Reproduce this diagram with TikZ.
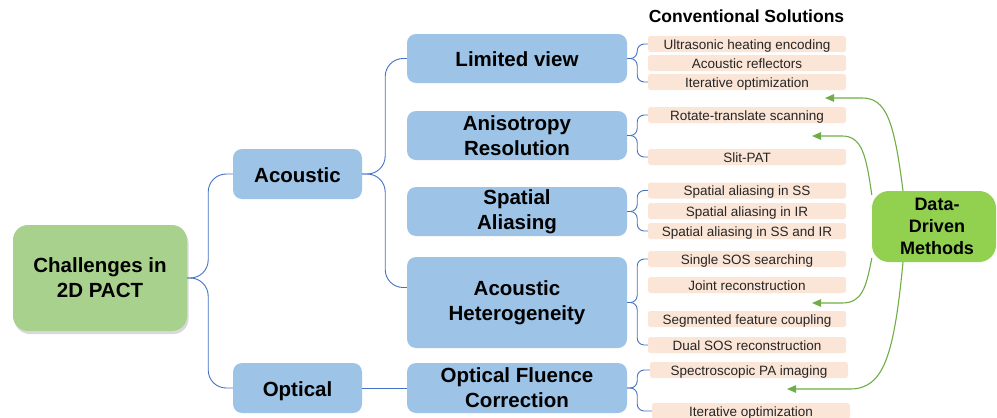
\documentclass[tikz,border=0pt]{standalone}
\usepackage{fontspec}
\setmainfont{Liberation Sans}
\usetikzlibrary{arrows.meta,shadows}

\definecolor{rootgreen}{HTML}{A9D18E}
\definecolor{ddgreen}{HTML}{92D050}
\definecolor{topicblue}{HTML}{9DC3E6}
\definecolor{solpeach}{HTML}{FBE5D6}
\definecolor{linkblue}{HTML}{4472C4}
\definecolor{arrowgreen}{HTML}{70AD47}
\definecolor{soltext}{HTML}{262626}

\tikzset{
  bigfont/.style={font=\fontsize{20.5}{25}\selectfont\bfseries},
  oneline/.style={text height=16pt, text depth=0pt},
  rootbox/.style={bigfont, fill=rootgreen, rounded corners=15pt, draw=none,
    minimum width=174pt, minimum height=106pt, inner sep=0pt, align=center,
    drop shadow={opacity=0.3, shadow xshift=1.5pt, shadow yshift=-3pt}},
  topicbox/.style={bigfont, oneline, fill=topicblue, rounded corners=9pt, draw=none,
    minimum width=129pt, minimum height=50pt, inner sep=0pt},
  issuebox/.style={bigfont, fill=topicblue, rounded corners=9pt, draw=none,
    minimum width=220pt, minimum height=#1, inner sep=0pt, align=center},
  issuebox/.default=49pt,
  solbox/.style={font=\fontsize{13.5}{15}\selectfont, text=soltext, fill=solpeach,
    rounded corners=2.5pt, minimum width=198pt, minimum height=16pt, inner sep=0pt,
    text height=10pt, text depth=0pt},
  ddbox/.style={font=\fontsize{18}{22}\selectfont\bfseries, fill=ddgreen,
    rounded corners=17pt, minimum width=124pt, minimum height=71pt, inner sep=0pt,
    align=center},
  brace/.style={draw=linkblue, line width=0.9pt, rounded corners=#1},
  brace/.default=18pt,
  ddarrow/.style={draw=arrowgreen, line width=1.1pt,
    -{Triangle[length=9pt,width=7.5pt]}},
}

\begin{document}
\begin{tikzpicture}[x=1pt,y=-1pt]
\useasboundingbox (0,0) rectangle (997,418);

% root and first level
\node[rootbox] (root) at (100,278) {Challenges in\\2D PACT};
\node[topicbox] (acoustic) at (297.5,174) {Acoustic};
\node[topicbox] (optical) at (297.5,388) {Optical};

% acoustic and optical issues
\node[issuebox, oneline] (limited) at (517,58.5) {Limited view};
\node[issuebox] (aniso) at (517,135.5) {Anisotropy\\Resolution};
\node[issuebox] (alias) at (517,211.5) {Spatial\\Aliasing};
\node[issuebox=91pt] (hetero) at (517,302.5) {Acoustic\\Heterogeneity};
\node[issuebox=50pt] (fluence) at (517,388) {Optical Fluence\\Correction};

% conventional solutions
\node[font=\fontsize{17.5}{20}\selectfont\bfseries] (convtitle) at (746.5,16) {Conventional Solutions};
\node[solbox] (s1) at (747,44) {Ultrasonic heating encoding};
\node[solbox] (s2) at (747,63) {Acoustic reflectors};
\node[solbox] (s3) at (747,82) {Iterative optimization};
\node[solbox] (s4) at (747,115) {Rotate-translate scanning};
\node[solbox] (s5) at (747,157) {Slit-PAT};
\node[solbox] (s6) at (747,190.5) {Spatial aliasing in SS};
\node[solbox] (s7) at (747,211) {Spatial aliasing in IR};
\node[solbox] (s8) at (747,231) {Spatial aliasing in SS and IR};
\node[solbox] (s9) at (747,259) {Single SOS searching};
\node[solbox] (s10) at (747,285) {Joint reconstruction};
\node[solbox] (s11) at (747,319) {Segmented feature coupling};
\node[solbox] (s12) at (747,345) {Dual SOS reconstruction};
\node[solbox] (s13) at (749,370) {Spectroscopic PA imaging};
\node[solbox] (s14) at (751,411) {Iterative optimization};

% data-driven methods
\node[ddbox] (dd) at (934,226.5) {\hspace*{6pt}Data-\\\hspace*{6pt}Driven\\\hspace*{6pt}Methods};

% tree connectors
\draw[brace] (root.east) -- ++(21,0) |- (acoustic.west);
\draw[brace] (root.east) -- ++(21,0) |- (optical.west);
\draw[brace] (acoustic.east) -- ++(23,0) |- (limited.west);
\draw[brace] (acoustic.east) -- ++(23,0) |- ([yshift=15pt]hetero.west);
\draw[draw=linkblue, line width=0.9pt] (optical.east) -- (fluence.west);

\foreach \p/\a/\b in {limited/s1/s3, aniso/s4/s5, alias/s6/s8, hetero/s9/s12, fluence/s13/s14}{
  \draw[brace=7pt] (\p.east) -- ++(10,0) |- (\a.west);
  \draw[brace=7pt] (\p.east) -- ++(10,0) |- (\b.west);
}

% data-driven arrows
\coordinate (t1) at (825,98);
\coordinate (t2) at (812,136);
\coordinate (t3) at (812,303);
\coordinate (t4) at (787,389);
\draw[ddarrow] ([xshift=-31pt]dd.north) .. controls (894,120) and (886,98) .. (862,98) -- (t1);
\draw[ddarrow] (dd.153) .. controls (866,155) and (862,136) .. (842,136) -- (t2);
\draw[ddarrow] (dd.207) .. controls (866,288) and (862,303) .. (842,303) -- (t3);
\draw[ddarrow] ([xshift=-31pt]dd.south) .. controls (894,355) and (884,389) .. (850,389) -- (t4);

\end{tikzpicture}
\end{document}
